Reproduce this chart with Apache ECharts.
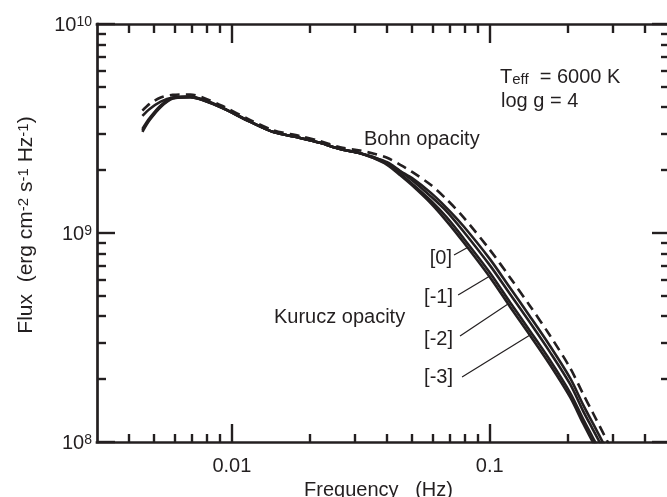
<!DOCTYPE html>
<html>
<head>
<meta charset="utf-8">
<script src="https://cdn.jsdelivr.net/npm/echarts@6/dist/echarts.min.js"></script>
<style>html,body{margin:0;padding:0;background:#fff}#c{width:667px;height:497px}</style>
</head>
<body>
<div id="c"></div>
<script>
// ---- data (flux in units of 1e9 erg cm^-2 s^-1 Hz^-1) ----
const freq = [0.0045,0.0048,0.0053,0.0059,0.0069,0.0077,0.0092,0.0118,0.0145,0.0184,0.022,0.0263,0.0314,0.0353,0.040,0.045,0.050,0.059,0.068,0.079,0.100,0.120,0.143,0.171,0.205,0.230,0.251,0.280,0.300];
const kurucz0  = [3.05,3.47,4.01,4.40,4.47,4.33,3.96,3.40,3.04,2.85,2.70,2.52,2.41,2.29,2.12,1.89,1.69,1.39,1.14,0.905,0.616,0.443,0.325,0.235,0.164,0.123,0.100,0.077,0.065];
const kuruczM1 = [3.10,3.50,4.04,4.42,4.47,4.33,3.96,3.40,3.04,2.85,2.70,2.52,2.41,2.29,2.14,1.92,1.72,1.43,1.19,0.946,0.647,0.465,0.341,0.247,0.172,0.129,0.105,0.081,0.068];
const kuruczM2 = [3.15,3.55,4.08,4.44,4.48,4.34,3.97,3.40,3.04,2.85,2.70,2.52,2.41,2.31,2.16,1.97,1.79,1.50,1.27,1.02,0.702,0.509,0.374,0.270,0.189,0.141,0.115,0.089,0.075];
const kuruczM3 = [3.63,3.92,4.25,4.45,4.50,4.36,3.98,3.41,3.04,2.85,2.70,2.52,2.41,2.31,2.18,1.98,1.83,1.56,1.32,1.08,0.752,0.545,0.400,0.289,0.202,0.151,0.123,0.095,0.080];
const bohn     = [3.85,4.15,4.45,4.58,4.60,4.45,4.05,3.47,3.10,2.91,2.75,2.57,2.48,2.40,2.29,2.12,1.96,1.70,1.45,1.19,0.832,0.611,0.449,0.324,0.226,0.170,0.138,0.106,0.090];

const xRange = [0.003, 0.5];
const yRange = [0.1, 10];
const xMajorTicks = [0.01, 0.1];
const xTickLabels = ['0.01', '0.1'];
const xMinorTicks = [0.004,0.005,0.006,0.007,0.008,0.009,0.02,0.03,0.04,0.05,0.06,0.07,0.08,0.09,0.2,0.3,0.4,0.5];
const yMajorTicks = [0.1, 1, 10];
const yTickLabels = ['10^8', '10^9', '10^10'];
const yMinorTicks = [0.2,0.3,0.4,0.5,0.6,0.7,0.8,0.9,2,3,4,5,6,7,8,9];

// leader lines (data coordinates) for metallicity labels
const leaderLabels = ['[0]', '[-1]', '[-2]', '[-3]'];
const leaderStart = [[0.0727,0.785],[0.0754,0.505],[0.0767,0.3215],[0.0781,0.2046]];
const leaderEnd   = [[0.0817,0.850],[0.0994,0.620],[0.1177,0.458],[0.1433,0.325]];

// ---- layout / style ----
const INK = '#231f20';
const FONT = '"Liberation Sans", Arial, Helvetica, sans-serif';
const AXW = 2.7, TKW = 2.4;
const lg = Math.log10;
const lx = [lg(xRange[0]), lg(xRange[1])];
const ly = [lg(yRange[0]), lg(yRange[1])];

function findLabel(v, ticks, labels) {
  for (let i = 0; i < ticks.length; i++) if (Math.abs(lg(ticks[i]) - v) < 1e-6) return labels[i];
  return '';
}
function supRich(s) { const p = s.split('^'); return '{b|' + p[0] + '}{s|' + p[1] + '}'; }

const supStyles = {
  b: {fontSize: 20, lineHeight: 20, verticalAlign: 'bottom', color: INK, fontFamily: FONT},
  s: {fontSize: 14, lineHeight: 14, verticalAlign: 'top', padding: [0,0,12,0], color: INK, fontFamily: FONT}
};
const titleStyles = {
  t: {fontSize: 21, lineHeight: 21, verticalAlign: 'bottom', color: INK, fontFamily: FONT},
  s: {fontSize: 15, lineHeight: 15, verticalAlign: 'top', padding: [0,0,12,0], color: INK, fontFamily: FONT}
};

function valAxis(position, range, ticks, len, showLine, label, extra) {
  return Object.assign({
    type: 'value', position: position, min: range[0], max: range[1], gridIndex: 0,
    axisLine: {show: showLine, onZero: false, lineStyle: {color: INK, width: AXW, cap: 'square'}},
    axisTick: {show: true, inside: true, length: len, customValues: ticks.map(lg), lineStyle: {color: INK, width: TKW}},
    axisLabel: label || {show: false},
    splitLine: {show: false}, splitArea: {show: false}
  }, extra || {});
}

const chart = echarts.init(document.getElementById('c'), null, {renderer: 'canvas'});

const lineBase = {type: 'line', xAxisIndex: 0, yAxisIndex: 0, showSymbol: false, symbol: 'none', smooth: 0.3, clip: true, silent: true};
function pts(arr) { return freq.map((f, i) => [f, arr[i]]); }

const option = {
  animation: false,
  backgroundColor: '#fff',
  grid: {left: 97, top: 24, width: 573, height: 418, containLabel: false, outerBoundsMode: 'none'},
  xAxis: [
    {type: 'log', min: xRange[0], max: xRange[1], show: false, gridIndex: 0},
    valAxis('bottom', lx, xMinorTicks, 8, true, null),
    valAxis('bottom', lx, xMajorTicks, 18, false,
      {show: true, customValues: xMajorTicks.map(lg), margin: 14, fontSize: 20, color: INK, fontFamily: FONT,
       formatter: v => findLabel(v, xMajorTicks, xTickLabels)},
      {name: 'Frequency   (Hz)', nameLocation: 'middle', nameGap: 33,
       nameTextStyle: {fontSize: 20, color: INK, fontFamily: FONT, padding: [0, 10, 0, 0]}}),
    valAxis('top', lx, xMinorTicks, 9, true, null),
    valAxis('top', lx, xMajorTicks, 19, false, null)
  ],
  yAxis: [
    {type: 'log', min: yRange[0], max: yRange[1], show: false, gridIndex: 0},
    valAxis('left', ly, yMinorTicks, 9, true, null),
    valAxis('left', ly, yMajorTicks, 18, false,
      {show: true, customValues: yMajorTicks.map(lg), margin: 5, rich: supStyles, padding: [3, 0, 0, 0],
       formatter: v => supRich(findLabel(v, yMajorTicks, yTickLabels))},
      {name: '{t|Flux  (erg cm}{s|-2}{t| s}{s|-1}{t| Hz}{s|-1}{t|)}', nameLocation: 'middle', nameGap: 60, nameRotate: 90,
       nameTextStyle: {padding: [0, 0, 0, 16], rich: titleStyles}}),
    valAxis('right', ly, yMinorTicks, 9, true, null),
    valAxis('right', ly, yMajorTicks, 18, false, null)
  ],
  series: [
    Object.assign({}, lineBase, {name: 'Bohn opacity', data: pts(bohn), z: 3,
      lineStyle: {color: INK, width: 2.6, type: [10, 6]}}),
    Object.assign({}, lineBase, {name: '[-3]', data: pts(kuruczM3), z: 4, lineStyle: {color: INK, width: 2.6}}),
    Object.assign({}, lineBase, {name: '[-2]', data: pts(kuruczM2), z: 4, lineStyle: {color: INK, width: 2.6}}),
    Object.assign({}, lineBase, {name: '[-1]', data: pts(kuruczM1), z: 4, lineStyle: {color: INK, width: 2.6}}),
    Object.assign({}, lineBase, {name: '[0]', data: pts(kurucz0), z: 4, lineStyle: {color: INK, width: 2.6},
      markLine: {silent: true, symbol: ['none', 'none'], animation: false, label: {show: false},
        lineStyle: {color: INK, width: 1.2, type: 'solid'},
        data: leaderStart.map((s, i) => [{coord: s}, {coord: leaderEnd[i]}])}})
  ],
  graphic: [
    {type: 'text', x: 500, y: 77, style: {
      text: '{t|T}{u|eff}{t|  = 6000 K}', verticalAlign: 'middle', align: 'left',
      rich: {
        t: {fontSize: 20, lineHeight: 20, verticalAlign: 'top', fill: INK, fontFamily: FONT},
        u: {fontSize: 15, lineHeight: 15, verticalAlign: 'bottom', padding: [9,0,0,0], fill: INK, fontFamily: FONT}
      }}},
    {type: 'text', x: 501, y: 101, style: {text: 'log g = 4', fontSize: 20, fontFamily: FONT, fill: INK, verticalAlign: 'middle', align: 'left'}},
    {type: 'text', x: 364, y: 139, style: {text: 'Bohn opacity', fontSize: 20, fontFamily: FONT, fill: INK, verticalAlign: 'middle', align: 'left'}},
    {type: 'text', x: 274, y: 317, style: {text: 'Kurucz opacity', fontSize: 20, fontFamily: FONT, fill: INK, verticalAlign: 'middle', align: 'left'}},
    {type: 'text', x: 452, y: 258, style: {text: leaderLabels[0], fontSize: 20, fontFamily: FONT, fill: INK, verticalAlign: 'middle', align: 'right'}},
    {type: 'text', x: 453, y: 297, style: {text: leaderLabels[1], fontSize: 20, fontFamily: FONT, fill: INK, verticalAlign: 'middle', align: 'right'}},
    {type: 'text', x: 453, y: 339, style: {text: leaderLabels[2], fontSize: 20, fontFamily: FONT, fill: INK, verticalAlign: 'middle', align: 'right'}},
    {type: 'text', x: 453, y: 377, style: {text: leaderLabels[3], fontSize: 20, fontFamily: FONT, fill: INK, verticalAlign: 'middle', align: 'right'}}
  ]
};
chart.setOption(option);
</script>
</body>
</html>
